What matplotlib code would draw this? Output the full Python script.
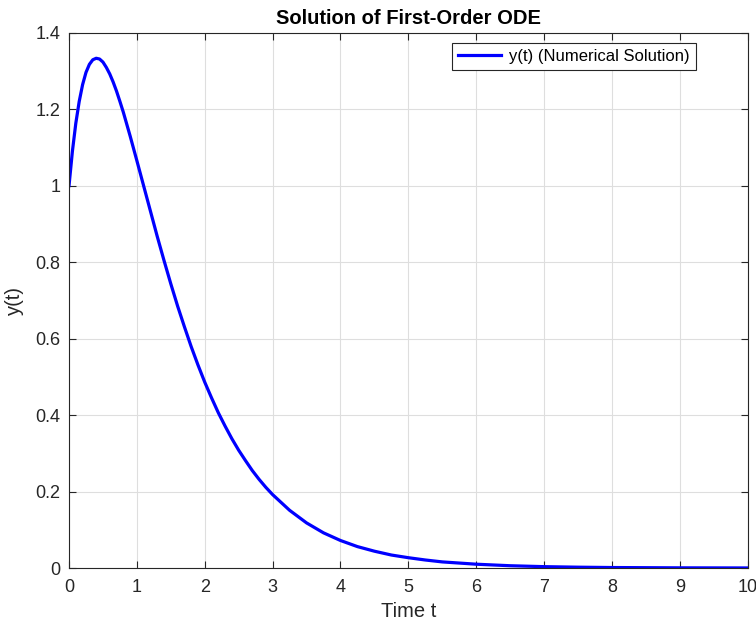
import matplotlib
matplotlib.use("Agg")
import matplotlib.pyplot as plt

plt.rcParams['font.family'] = ['Liberation Sans', 'DejaVu Sans']

# values
t = [0.0, 0.05, 0.1, 0.15, 0.2, 0.25, 0.3, 0.35, 0.4, 0.45, 0.5, 0.55, 0.6,
     0.65, 0.7, 0.75, 0.8, 0.9, 1.0, 1.1, 1.2, 1.3, 1.4, 1.5, 1.6, 1.7, 1.8,
     1.9, 2.0, 2.1, 2.2, 2.3, 2.4, 2.5, 2.6, 2.7, 2.8, 2.9, 3.0, 3.25, 3.5,
     3.75, 4.0, 4.25, 4.5, 4.75, 5.0, 5.25, 5.5, 6.0, 6.5, 7.0, 7.5, 8.0,
     9.0, 10.0]
y = [1.000, 1.090, 1.163, 1.220, 1.264, 1.296, 1.317, 1.329, 1.333, 1.331,
     1.323, 1.309, 1.292, 1.271, 1.247, 1.220, 1.192, 1.130, 1.065, 0.999,
     0.933, 0.867, 0.804, 0.743, 0.685, 0.631, 0.579, 0.531, 0.486, 0.445,
     0.406, 0.371, 0.338, 0.308, 0.281, 0.255, 0.232, 0.211, 0.192, 0.151,
     0.118, 0.092, 0.072, 0.056, 0.044, 0.034, 0.027, 0.021, 0.016, 0.010,
     0.0060, 0.0036, 0.0022, 0.0013, 0.0005, 0.0002]

xticks = list(range(0, 11))
yticks = [0, 0.2, 0.4, 0.6, 0.8, 1.0, 1.2, 1.4]
ytick_labels = ['0', '0.2', '0.4', '0.6', '0.8', '1', '1.2', '1.4']

fig = plt.figure(figsize=(7.56, 6.24), dpi=100)
ax = fig.add_axes([0.0913, 0.0897, 0.8977, 0.858])

ax.plot(t, y, color='#0000ff', lw=2.3, label='y(t) (Numerical Solution)')

ax.set_xlim(0, 10)
ax.set_ylim(0, 1.4)
ax.set_xticks(xticks)
ax.set_yticks(yticks)
ax.set_yticklabels(ytick_labels)
ax.grid(True, color='#dedede', lw=0.8)
ax.set_axisbelow(True)

ax.tick_params(direction='in', length=5, width=0.8, colors='#262626',
               labelsize=13, top=True, right=True)
ax.tick_params(axis='x', pad=8)
ax.tick_params(axis='y', pad=6)
for s in ax.spines.values():
    s.set_color('#262626')
    s.set_linewidth(0.8)

ax.set_xlabel('Time t', fontsize=14.5, color='#262626', labelpad=4)
ax.set_ylabel('y(t)', fontsize=14.5, color='#262626', labelpad=8)
ax.set_title('Solution of First-Order ODE', fontsize=14.5, fontweight='bold',
             color='black', pad=6)

leg = ax.legend(loc='upper right', bbox_to_anchor=(0.936, 0.996), fontsize=12,
                fancybox=False, framealpha=1, edgecolor='#262626',
                handlelength=2.6, borderpad=0.35, handletextpad=0.5)
leg.get_frame().set_linewidth(0.8)

fig.savefig('out.png', dpi=100)
